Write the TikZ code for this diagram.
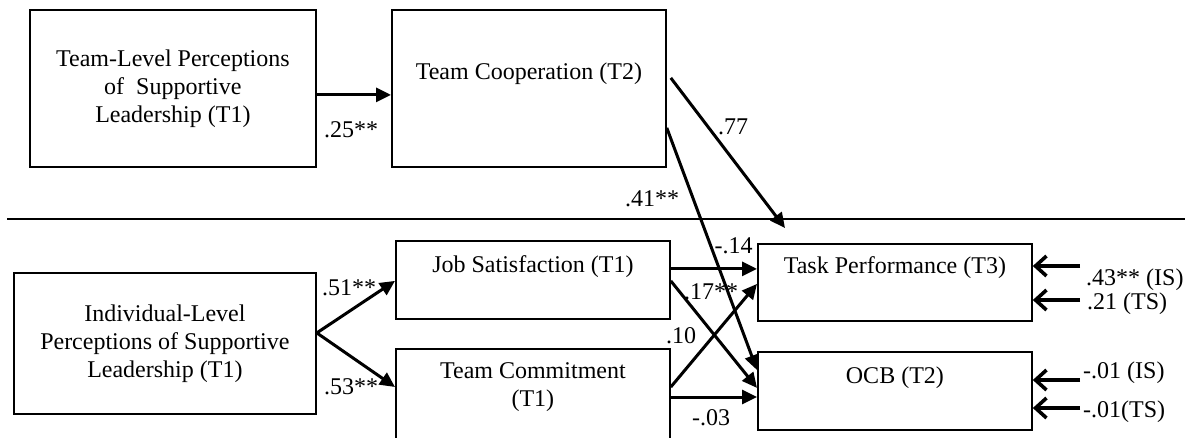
\documentclass[tikz,border=0pt]{standalone}
\usepackage{fontspec}
\setmainfont{Liberation Serif}
\usetikzlibrary{arrows.meta}
\begin{document}
\begin{tikzpicture}[x=1pt,y=-1pt,
  font=\fontsize{24}{28}\selectfont,
  box/.style={draw, line width=1.8pt, inner sep=0pt, anchor=north west, align=center},
  arr/.style={line width=3pt, -{Triangle[length=15pt,width=14pt]}},
  barb/.style={line width=3.6pt, -{Straight Barb[length=11pt,width=20pt]}},
  coef/.style={inner sep=0pt}]
\clip (0,0) rectangle (1190,437);
% boxes
\node[box, minimum width=286pt, minimum height=157pt] (tl) at (29,9)
  {Team-Level Perceptions\\of~ Supportive\\Leadership (T1)};
\node[box, minimum width=274pt, minimum height=157pt,
  label={[yshift=14.5pt]center:Team Cooperation (T2)}] (coop) at (391,9) {};
\node[box, minimum width=302pt, minimum height=141pt] (il) at (13,272)
  {Individual-Level\\Perceptions of Supportive\\Leadership (T1)};
\node[box, minimum width=274pt, minimum height=78pt,
  label={[yshift=13pt]center:Job Satisfaction (T1)}] (js) at (395,240) {};
\node[box, minimum width=274pt, minimum height=120pt,
  label={[yshift=21.5pt,align=center]center:Team Commitment\\(T1)}] (tc) at (395,348) {};
\node[box, minimum width=274pt, minimum height=77pt,
  label={[yshift=14.5pt]center:Task Performance (T3)}] (tp) at (757,243) {};
\node[box, minimum width=274pt, minimum height=78pt,
  label={[yshift=13pt]center:OCB (T2)}] (ocb) at (757,351) {};
% divider
\coordinate (dl) at (7,219);
\coordinate (dr) at (1185,219);
\draw[line width=2pt] (dl) -- (dr);
% paths
\draw[arr] ([yshift=-6.5pt]tl.east) -- ([yshift=-6.5pt]coop.west);
\draw[arr] ([yshift=10.5pt]il.east) -- ([yshift=-1pt]js.west);
\draw[arr] ([yshift=10.5pt]il.east) -- ([yshift=-39pt]tc.north west);
\draw[arr] ([yshift=11pt]js.east) -- ([yshift=11pt]js.east -| tp.west);
\draw[arr] ([yshift=-1pt]js.east) -- ([yshift=3pt]ocb.west);
\draw[arr] ([yshift=-39pt]tc.north east) -- ([yshift=-1.5pt]tp.west);
\draw[arr] ([yshift=-49pt]tc.north east) -- ([yshift=-49pt]tc.north east -| ocb.west);
\draw[arr] ([xshift=4pt,yshift=10.5pt]coop.east) -- ([xshift=28pt,yshift=15pt]tp.north west);
\draw[arr] ([yshift=-39.5pt]coop.east) -- ([yshift=-19pt]ocb.north west);
% residual arrows
\coordinate (r1) at (1080,266);
\coordinate (r2) at (1080,300);
\coordinate (r3) at (1080,380);
\coordinate (r4) at (1080,408);
\draw[barb] (r1) -- (r1 -| tp.east);
\draw[barb] (r2) -- (r2 -| tp.east);
\draw[barb] (r3) -- (r3 -| ocb.east);
\draw[barb] (r4) -- (r4 -| ocb.east);
\node[coef, anchor=base west] (l1) at (1086,285) {.43** (IS)};
\node[coef, anchor=base west] (l2) at (1087,309) {.21 (TS)};
\node[coef, anchor=base west] (l3) at (1083,378) {-.01 (IS)};
\node[coef, anchor=base west] (l4) at (1083,417) {-.01(TS)};
% coefficients
\node[coef] (c25) at (351,130) {.25**};
\node[coef] (c77) at (733,126.5) {.77};
\node[coef] (c41) at (652,198.5) {.41**};
\node[coef] (c14) at (733.5,245.5) {-.14};
\node[coef] (c17) at (711,291.5) {.17**};
\node[coef] (c10) at (681,336) {.10};
\node[coef] (c03) at (711,417.5) {-.03};
\node[coef] (c51) at (349,288) {.51**};
\node[coef] (c53) at (351,387) {.53**};
\end{tikzpicture}
\end{document}
